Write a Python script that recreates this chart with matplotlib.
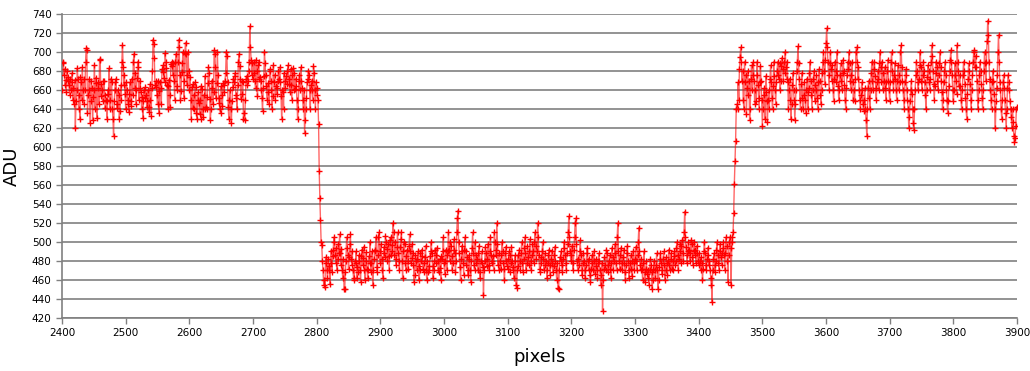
import numpy as np
import matplotlib
matplotlib.use("Agg")
import matplotlib.pyplot as plt

x_start = 2400

# ADU values, pixels 2400-2799
adu_left = [
    660, 688, 690, 676, 682, 665, 671, 658, 680, 670, 674, 665, 655, 672, 660, 668, 678, 650, 662, 645,
    671, 620, 648, 660, 683, 672, 640, 655, 630, 674, 668, 650, 684, 660, 645, 672, 660, 690, 704, 702,
    636, 655, 660, 672, 625, 648, 670, 662, 628, 653, 660, 686, 640, 673, 667, 631, 662, 668, 645, 692,
    693, 654, 666, 660, 648, 669, 670, 655, 641, 650, 648, 630, 660, 656, 683, 640, 650, 672, 668, 640,
    630, 612, 648, 660, 668, 672, 645, 641, 660, 655, 630, 638, 665, 650, 690, 707, 684, 665, 676, 656,
    640, 668, 660, 650, 645, 637, 656, 668, 648, 643, 672, 655, 690, 698, 662, 678, 645, 660, 673, 690,
    684, 650, 670, 662, 658, 640, 653, 631, 648, 660, 652, 663, 655, 642, 648, 660, 637, 642, 666, 650,
    633, 662, 680, 713, 708, 694, 665, 663, 669, 655, 645, 670, 636, 659, 668, 662, 645, 682, 679, 686,
    673, 668, 699, 690, 683, 665, 640, 664, 671, 642, 655, 687, 685, 690, 676, 688, 670, 650, 689, 698,
    664, 660, 690, 713, 705, 676, 649, 659, 679, 688, 700, 670, 652, 699, 710, 698, 665, 676, 700, 680,
    660, 674, 650, 630, 663, 666, 641, 655, 640, 668, 663, 636, 630, 650, 658, 646, 635, 650, 664, 630,
    661, 640, 632, 655, 640, 675, 642, 640, 653, 667, 684, 678, 651, 628, 640, 670, 662, 645, 658, 702,
    698, 684, 652, 667, 700, 676, 652, 646, 640, 636, 664, 655, 643, 667, 658, 665, 670, 678, 700, 696,
    668, 642, 630, 650, 660, 640, 625, 648, 663, 672, 668, 675, 678, 655, 652, 640, 665, 690, 698, 685,
    672, 651, 656, 670, 668, 630, 636, 628, 650, 672, 675, 665, 670, 680, 690, 727, 705, 692, 676, 688,
    672, 678, 690, 670, 662, 692, 680, 654, 686, 690, 672, 674, 670, 660, 652, 638, 662, 675, 700, 688,
    676, 664, 650, 667, 658, 645, 680, 682, 670, 660, 640, 654, 686, 668, 676, 650, 664, 656, 662, 670,
    680, 672, 684, 668, 654, 630, 660, 658, 640, 678, 662, 669, 675, 666, 680, 686, 672, 666, 658, 682,
    665, 650, 676, 683, 660, 678, 661, 672, 664, 650, 630, 640, 670, 676, 660, 684, 670, 662, 650, 640,
    660, 615, 628, 640, 652, 668, 672, 680, 676, 660, 640, 665, 670, 660, 650, 685, 678, 660, 640, 668,
]

# ADU values, pixels 2800-3459
adu_mid = [
    662, 655, 650, 624, 575, 546, 523, 500, 497, 480, 470, 455, 460, 453, 484, 478, 470, 462, 482, 475,
    470, 456, 478, 490, 468, 485, 492, 505, 500, 486, 478, 494, 470, 482, 498, 488, 508, 488, 476, 493,
    470, 462, 482, 451, 450, 468, 480, 505, 494, 486, 472, 484, 498, 508, 482, 476, 490, 470, 462, 460,
    480, 478, 490, 462, 474, 468, 486, 480, 470, 458, 485, 492, 476, 483, 495, 470, 460, 480, 489, 472,
    462, 470, 485, 478, 500, 468, 478, 490, 455, 470, 482, 492, 490, 505, 474, 468, 486, 505, 510, 490,
    478, 498, 482, 470, 462, 488, 495, 484, 506, 500, 493, 480, 498, 485, 470, 502, 505, 486, 490, 497,
    520, 510, 486, 500, 482, 476, 495, 510, 488, 480, 470, 495, 503, 510, 480, 462, 490, 500, 498, 478,
    470, 485, 492, 480, 472, 496, 508, 490, 478, 483, 498, 488, 476, 458, 465, 486, 480, 470, 482, 490,
    475, 460, 470, 488, 480, 492, 485, 472, 468, 478, 484, 496, 470, 460, 480, 468, 475, 470, 485, 490,
    500, 488, 475, 462, 470, 480, 492, 486, 478, 494, 480, 470, 468, 482, 473, 460, 485, 482, 490, 505,
    478, 466, 480, 492, 486, 470, 490, 510, 492, 480, 500, 496, 485, 470, 478, 492, 503, 488, 468, 480,
    510, 525, 533, 500, 488, 474, 460, 482, 496, 490, 478, 465, 492, 505, 490, 476, 484, 470, 465, 486,
    482, 470, 458, 480, 494, 510, 488, 476, 470, 500, 486, 478, 482, 470, 488, 496, 468, 462, 480, 490,
    478, 474, 444, 470, 480, 495, 488, 475, 482, 498, 476, 470, 490, 505, 486, 478, 480, 485, 470, 510,
    500, 492, 486, 520, 498, 476, 488, 470, 480, 472, 486, 500, 490, 478, 472, 460, 488, 495, 480, 475,
    482, 472, 490, 486, 468, 478, 495, 480, 470, 474, 462, 480, 486, 455, 452, 470, 486, 475, 492, 480,
    470, 488, 500, 478, 468, 482, 494, 505, 488, 470, 478, 496, 484, 476, 490, 503, 480, 470, 486, 498,
    490, 478, 500, 510, 496, 482, 490, 520, 505, 486, 472, 468, 484, 478, 490, 500, 482, 470, 476, 488,
    480, 470, 462, 478, 486, 492, 476, 465, 482, 490, 478, 468, 475, 486, 495, 480, 470, 460, 478, 452,
    450, 470, 484, 480, 490, 476, 468, 482, 494, 500, 486, 478, 470, 488, 498, 510, 527, 505, 490, 480,
    486, 496, 478, 470, 492, 505, 520, 525, 498, 480, 470, 482, 476, 490, 502, 486, 470, 465, 478, 488,
    480, 470, 462, 476, 488, 494, 480, 470, 482, 465, 458, 472, 486, 478, 470, 490, 480, 466, 475, 482,
    470, 462, 478, 488, 480, 470, 455, 465, 478, 427, 460, 472, 484, 476, 470, 492, 488, 476, 468, 480,
    486, 472, 462, 478, 494, 484, 470, 480, 488, 498, 478, 470, 505, 520, 490, 480, 472, 486, 494, 478,
    470, 484, 492, 478, 468, 460, 476, 488, 496, 480, 470, 462, 478, 486, 472, 464, 480, 490, 478, 470,
    482, 495, 480, 470, 486, 500, 515, 490, 476, 470, 482, 472, 460, 478, 490, 468, 458, 472, 480, 466,
    470, 462, 455, 470, 482, 476, 468, 450, 460, 472, 480, 470, 462, 476, 488, 470, 450, 460, 474, 482,
    488, 478, 466, 470, 482, 490, 476, 460, 470, 484, 478, 465, 480, 492, 476, 470, 482, 488, 472, 480,
    470, 485, 490, 476, 480, 494, 500, 486, 470, 482, 498, 490, 478, 496, 502, 488, 480, 510, 532, 505,
    495, 486, 478, 490, 500, 492, 480, 488, 502, 498, 484, 476, 490, 500, 492, 486, 478, 496, 488, 480,
    476, 488, 480, 470, 484, 478, 460, 472, 490, 500, 488, 476, 470, 482, 494, 486, 476, 480, 470, 462,
    455, 437, 470, 482, 488, 476, 468, 480, 492, 500, 486, 478, 470, 490, 498, 484, 476, 488, 494, 500,
    486, 470, 488, 505, 496, 480, 458, 486, 500, 505, 494, 455, 500, 505, 510, 530, 561, 585, 606, 640,
]

# ADU values, pixels 3460-3900
adu_right = [
    645, 640, 668, 650, 682, 695, 705, 690, 670, 680, 650, 640, 690, 668, 676, 635, 662, 680, 655, 670,
    628, 640, 672, 686, 660, 676, 690, 670, 645, 660, 648, 676, 690, 665, 652, 640, 668, 685, 670, 650,
    622, 640, 655, 662, 630, 658, 675, 648, 626, 650, 660, 640, 672, 686, 668, 652, 640, 664, 690, 675,
    660, 645, 668, 680, 690, 676, 672, 688, 660, 670, 685, 694, 682, 670, 690, 678, 700, 684, 672, 690,
    668, 640, 660, 672, 650, 630, 645, 665, 678, 660, 650, 628, 645, 660, 680, 690, 706, 688, 672, 650,
    640, 666, 678, 652, 640, 655, 668, 650, 636, 660, 672, 658, 640, 662, 678, 690, 670, 655, 640, 660,
    672, 680, 665, 648, 660, 676, 652, 640, 668, 682, 670, 655, 645, 660, 678, 690, 700, 680, 666, 692,
    710, 725, 705, 690, 676, 660, 688, 700, 682, 670, 686, 660, 648, 672, 690, 680, 668, 700, 676, 664,
    650, 660, 676, 688, 670, 660, 678, 692, 680, 665, 650, 640, 662, 676, 690, 682, 700, 688, 670, 660,
    676, 690, 668, 650, 660, 648, 672, 700, 705, 690, 672, 684, 660, 650, 640, 655, 668, 660, 645, 638,
    650, 662, 640, 628, 612, 640, 662, 670, 652, 640, 660, 678, 690, 670, 660, 682, 690, 675, 662, 650,
    668, 680, 672, 660, 688, 700, 684, 668, 690, 678, 660, 670, 684, 662, 650, 668, 680, 692, 670, 660,
    648, 668, 690, 700, 680, 670, 660, 676, 688, 672, 660, 650, 670, 686, 676, 660, 668, 700, 707, 684,
    670, 660, 650, 640, 668, 682, 676, 660, 650, 640, 620, 632, 648, 660, 670, 656, 640, 625, 618, 640,
    660, 676, 690, 680, 668, 660, 672, 686, 700, 684, 670, 660, 676, 690, 680, 668, 655, 640, 660, 674,
    686, 680, 668, 660, 672, 690, 707, 696, 680, 666, 650, 664, 678, 690, 684, 670, 660, 676, 688, 700,
    684, 670, 658, 640, 650, 668, 680, 690, 676, 660, 650, 636, 648, 664, 680, 692, 702, 690, 676, 660,
    648, 660, 676, 688, 670, 656, 707, 690, 680, 664, 676, 664, 650, 640, 660, 676, 690, 680, 666, 652,
    640, 630, 656, 672, 688, 680, 666, 650, 640, 660, 676, 690, 700, 702, 684, 696, 684, 670, 650, 640,
    660, 676, 690, 680, 666, 652, 640, 660, 680, 700, 688, 670, 690, 712, 733, 718, 690, 672, 660, 650,
    640, 668, 680, 670, 656, 640, 620, 648, 662, 676, 700, 718, 690, 668, 660, 640, 630, 650, 668, 676,
    662, 650, 636, 620, 640, 662, 676, 668, 660, 648, 640, 632, 620, 640, 626, 612, 605, 610, 622, 640,
    642,
]

adu = np.array(adu_left + adu_mid + adu_right)
pixels = np.arange(x_start, x_start + len(adu))

fig = plt.figure(figsize=(10.30, 3.71), dpi=100)
ax = fig.add_axes([62 / 1030, 1 - 318 / 371, (1017 - 62) / 1030, (318 - 14) / 371])

ax.plot(pixels, adu, color=(1.0, 0.0, 0.0, 0.6), lw=1.0, zorder=2)
ax.plot(pixels, adu, ls='none', marker='+', ms=4, mew=1.0, color='#ff0000', zorder=3)

ax.set_xlim(2400, 3900)
ax.set_ylim(420, 740)
ax.set_xticks(np.arange(2400, 3901, 100))
ax.set_yticks(np.arange(420, 741, 20))
ax.yaxis.grid(True, color='#808080', lw=1.2, zorder=1)
ax.set_axisbelow(True)
for s in ('top', 'right'):
    ax.spines[s].set_visible(False)
for s in ('left', 'bottom'):
    ax.spines[s].set_color('#808080')
    ax.spines[s].set_linewidth(1.2)
ax.tick_params(axis='both', colors='#808080', labelcolor='black', labelsize=7.5,
               length=4, width=1.0, direction='out')
ax.set_xlabel('pixels', fontsize=13, labelpad=7)
ax.set_ylabel('ADU', fontsize=13, labelpad=8)

fig.savefig('out.png', dpi=100)
